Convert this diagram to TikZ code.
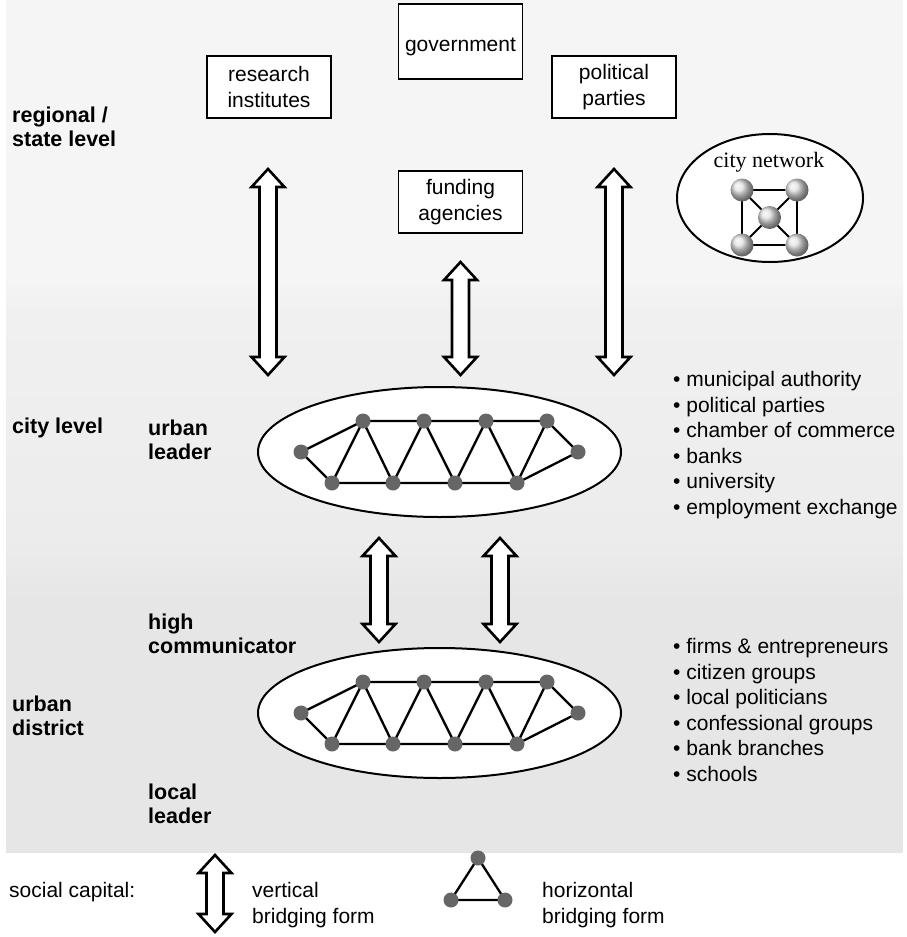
\documentclass[tikz,border=0pt]{standalone}
\usepackage{fontspec}
\setmainfont{Liberation Sans}
\newfontfamily\serifnet{Liberation Serif}
\usetikzlibrary{calc}
\definecolor{nodegray}{HTML}{666666}
\newcommand{\vArrow}[3]{% x, ytop, ybottom
  \draw[arrowbox] (#1-8.5,#2+18) -- (#1-16.5,#2+18) -- (#1,#2) -- (#1+16.5,#2+18) -- (#1+8.5,#2+18)
    -- (#1+8.5,#3-18) -- (#1+16.5,#3-18) -- (#1,#3) -- (#1-16.5,#3-18) -- (#1-8.5,#3-18) -- cycle;}
\begin{document}
\begin{tikzpicture}[x=1pt,y=-1pt,
  lbl/.style={font=\fontsize{21.5}{24.5}\selectfont\bfseries, align=left, anchor=west, inner sep=0pt},
  txt/.style={font=\fontsize{21}{25.6}\selectfont, align=left, anchor=west, inner sep=0pt},
  boxnode/.style={draw, line width=1.8pt, fill=white, minimum width=124pt, minimum height=62pt, inner sep=0pt, align=center, font=\fontsize{21}{26}\selectfont},
  arrowbox/.style={draw, line width=2.6pt, fill=white, line join=miter},
  dot/.style={circle, fill=nodegray, minimum size=15pt, inner sep=0pt},
  edge/.style={line width=2.3pt},
  ellline/.style={line width=2pt, fill=white}
]
\useasboundingbox (0,0) rectangle (907,937);
\fill[white] (0,0) rectangle (907,937);
% background bands
\fill[color={rgb,255:red,245;green,245;blue,245}] (6,0) rectangle (903,282);
\shade[top color={rgb,255:red,245;green,245;blue,245}, bottom color={rgb,255:red,240;green,240;blue,240}] (6,281) rectangle (903,311);
\shade[top color={rgb,255:red,240;green,240;blue,240}, bottom color={rgb,255:red,236;green,236;blue,236}] (6,310) rectangle (903,541);
\shade[top color={rgb,255:red,236;green,236;blue,236}, bottom color={rgb,255:red,230;green,230;blue,230}] (6,540) rectangle (903,601);
\fill[color={rgb,255:red,230;green,230;blue,230}] (6,600) rectangle (903,853);

% level labels
\node[lbl] (reg) at (12,127) {regional /\\state level};
\node[lbl] (city) at (12,428) {city level};
\node[lbl] (dist) at (12,716) {urban\\district};
\node[lbl] (ul) at (148,440) {urban\\leader};
\node[lbl] (hc) at (148,634) {high\\communicator};
\node[lbl] (ll) at (148,804) {local\\leader};

% boxes
\node[boxnode, minimum height=75pt, text height=20pt, text depth=0pt] (gov) at (460.5,41.5) {government};
\node[boxnode] (res) at (269,87) {research\\institutes};
\node[boxnode] (pol) at (614,87) {political\\parties};
\node[boxnode] (fund) at (460.5,202) {funding\\agencies};

% city network icon
\draw[ellline] (770,198) ellipse [x radius=93, y radius=64];
\node[font=\serifnet\fontsize{22}{24}\selectfont, inner sep=0pt] (cnl) at (769,162) {city network};
\coordinate (c1) at (742,190);
\coordinate (c2) at (797,190);
\coordinate (c3) at (742,245);
\coordinate (c4) at (797,245);
\coordinate (c0) at (769.5,217.5);
\draw[line width=1.8pt] (c1) -- (c2) -- (c4) -- (c3) -- cycle (c1) -- (c4) (c2) -- (c3);
\foreach \c in {c1,c2,c3,c4,c0}
  \shade[ball color=white!75!gray] (\c) circle (11.5);

% vertical arrows
\vArrow{268}{169}{375}
\vArrow{614}{169}{375}
\vArrow{460.5}{262}{375}
\vArrow{379}{538}{642}
\vArrow{500}{538}{642}

% city level network
\draw[ellline] (439.5,452) ellipse [x radius=181.5, y radius=65];
\foreach \n/\x/\y in {L/301/452, R/578/452, T1/363/421, T2/424/421, T3/486/421, T4/547/421, B1/332/483, B2/393/483, B3/455/483, B4/517/483}
  \coordinate (a\n) at (\x,\y);
\draw[edge] (aL) -- (aT1) -- (aT2) -- (aT3) -- (aT4) -- (aR) -- (aB4) -- (aB3) -- (aB2) -- (aB1) -- cycle;
\draw[edge] (aB1) -- (aT1) -- (aB2) -- (aT2) -- (aB3) -- (aT3) -- (aB4) -- (aT4);
\foreach \n in {L,R,T1,T2,T3,T4,B1,B2,B3,B4}
  \node[dot] (na\n) at (a\n) {};

% district network
\draw[ellline] (439.5,713) ellipse [x radius=181.5, y radius=65];
\foreach \n/\x/\y in {L/301/713, R/578/713, T1/363/682, T2/424/682, T3/486/682, T4/547/682, B1/332/744, B2/393/744, B3/455/744, B4/517/744}
  \coordinate (b\n) at (\x,\y);
\draw[edge] (bL) -- (bT1) -- (bT2) -- (bT3) -- (bT4) -- (bR) -- (bB4) -- (bB3) -- (bB2) -- (bB1) -- cycle;
\draw[edge] (bB1) -- (bT1) -- (bB2) -- (bT2) -- (bB3) -- (bT3) -- (bB4) -- (bT4);
\foreach \n in {L,R,T1,T2,T3,T4,B1,B2,B3,B4}
  \node[dot] (nb\n) at (b\n) {};

% lists
\node[txt, anchor=north west] (list1) at (673,371) {%
  \textbullet\ municipal authority\\
  \textbullet\ political parties\\
  \textbullet\ chamber of commerce\\
  \textbullet\ banks\\
  \textbullet\ university\\
  \textbullet\ employment exchange};
\node[txt, anchor=north west] (list2) at (673,638) {%
  \textbullet\ firms \& entrepreneurs\\
  \textbullet\ citizen groups\\
  \textbullet\ local politicians\\
  \textbullet\ confessional groups\\
  \textbullet\ bank branches\\
  \textbullet\ schools};

% legend
\node[txt] (sc) at (9,892) {social capital:};
\vArrow{215}{855}{932}
\node[txt] (vb) at (252,905) {vertical\\bridging form};
\coordinate (g1) at (478,858);
\coordinate (g2) at (451,900);
\coordinate (g3) at (505,900);
\draw[edge] (g1) -- (g2) -- (g3) -- cycle;
\foreach \g in {g1,g2,g3} \node[dot] at (\g) {};
\node[txt] (hb) at (542,905) {horizontal\\bridging form};
\end{tikzpicture}
\end{document}
